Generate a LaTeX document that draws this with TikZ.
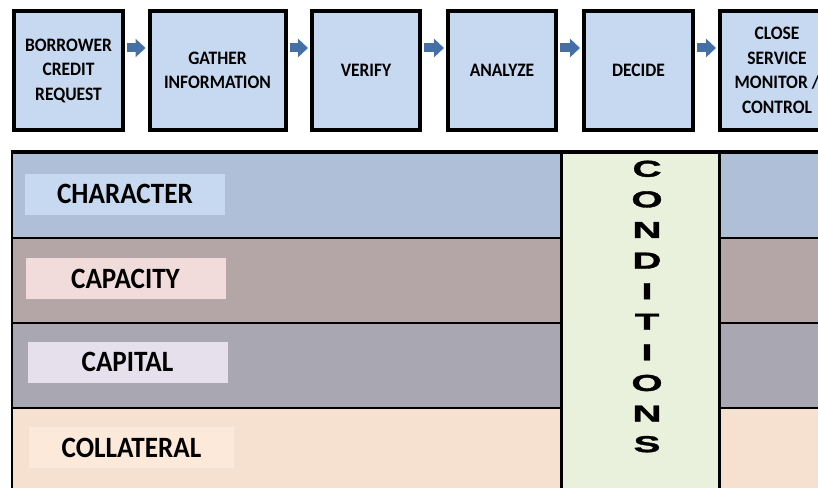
\documentclass[tikz,border=0pt]{standalone}
\usepackage{fontspec}
\setmainfont{Carlito}
\newfontfamily\stagefont[FakeStretch=0.92]{Carlito Bold}
\newfontfamily\condfont[FakeStretch=1.75,FakeBold=1.5]{Liberation Sans Bold}
\usetikzlibrary{arrows.meta,positioning,calc,backgrounds}
\definecolor{stagefill}{HTML}{C6D9F0}
\definecolor{flowblue}{HTML}{4470A5}
\definecolor{topline}{HTML}{C9D3E2}
\definecolor{charrow}{HTML}{AEBFD7}
\definecolor{caprow}{HTML}{B4A6A6}
\definecolor{capitalrow}{HTML}{A9A7B2}
\definecolor{collrow}{HTML}{F6E1D1}
\definecolor{condfill}{HTML}{E9F1DC}
\definecolor{charlabel}{HTML}{C6D9F0}
\definecolor{caplabel}{HTML}{F2DCDB}
\definecolor{capitallabel}{HTML}{E5E0EC}
\definecolor{colllabel}{HTML}{FDE9D9}
\tikzset{
  stagebox/.style={draw=black,line width=4pt,fill=stagefill,minimum height=119pt,align=center,inner sep=2pt,font=\stagefont\fontsize{19}{24.5}\selectfont},
  flow/.style={-{Triangle[length=10pt,width=18pt]},line width=9pt,draw=flowblue,shorten <=2pt,shorten >=2pt},
  rowlabel/.style={minimum width=200pt,minimum height=41pt,inner sep=0pt,font=\stagefont\fontsize{29.5}{30}\selectfont},
  rowline/.style={draw=black,line width=2pt},
  colline/.style={draw=black,line width=3pt},
  condtext/.style={align=center,inner sep=0pt,font=\condfont\fontsize{23}{30.6}\selectfont},
}

\begin{document}
\begin{tikzpicture}[x=1pt,y=-1pt]
  \useasboundingbox (0,0) rectangle (818,487);
  \fill[white] (0,0) rectangle (818,487);
  \clip (0,0) rectangle (818,487);

  % process steps
  \node[stagebox,minimum width=109pt] (borrower) at (68.5,70.5) {BORROWER\\CREDIT\\REQUEST};
  \node[stagebox,minimum width=136pt] (gather) at (217.5,70.5) {GATHER\\INFORMATION};
  \node[stagebox,minimum width=108pt] (verify) at (366,70.5) {VERIFY};
  \node[stagebox,minimum width=108pt] (analyze) at (502,70.5) {ANALYZE};
  \node[stagebox,minimum width=109pt] (decide) at (638.5,70.5) {DECIDE};
  \node[stagebox,minimum width=114pt] (closing) at (777,70.5) {CLOSE\\SERVICE\\MONITOR /\\CONTROL};
  \draw[flow] ([yshift=22.5pt]borrower.east) -- ([yshift=22.5pt]gather.west);
  \draw[flow] ([yshift=22.5pt]gather.east) -- ([yshift=22.5pt]verify.west);
  \draw[flow] ([yshift=22.5pt]verify.east) -- ([yshift=22.5pt]analyze.west);
  \draw[flow] ([yshift=22.5pt]analyze.east) -- ([yshift=22.5pt]decide.west);
  \draw[flow] ([yshift=22.5pt]decide.east) -- ([yshift=22.5pt]closing.west);
  \begin{scope}[on background layer]
    \draw[topline,line width=1.5pt] ([yshift=3pt]borrower.north) -- ([yshift=3pt]closing.north east);
  \end{scope}

  % the four C's
  \fill[charrow] (12,152) rectangle (830,238);
  \fill[caprow] (12,238) rectangle (830,323);
  \fill[capitalrow] (12,323) rectangle (830,408);
  \fill[collrow] (12,408) rectangle (830,490);
  \fill[condfill] (561,152) rectangle (719,490);
  \draw[rowline] (12,238) -- (561,238) (719,238) -- (830,238);
  \draw[rowline] (12,323) -- (561,323) (719,323) -- (830,323);
  \draw[rowline] (12,408) -- (561,408) (719,408) -- (830,408);
  \draw[rowline,line width=2.5pt] (12,151) -- (12,490);
  \draw[colline] (561,152) -- (561,490) (719,152) -- (719,490);
  \draw[line width=4pt] (10.75,152) -- (830,152);

  \node[rowlabel,fill=charlabel] (character) at (125,194) {CHARACTER};
  \node[rowlabel,fill=caplabel] (capacity) at (125.5,278.5) {CAPACITY};
  \node[rowlabel,fill=capitallabel] (capital) at (127.5,362) {CAPITAL};
  \node[rowlabel,fill=colllabel,minimum width=205pt] (collateral) at (131.5,447.5) {COLLATERAL};
  \node[condtext] (conditions) at (647,306.5) {C\\O\\N\\D\\I\\T\\I\\O\\N\\S};
\end{tikzpicture}
\end{document}
